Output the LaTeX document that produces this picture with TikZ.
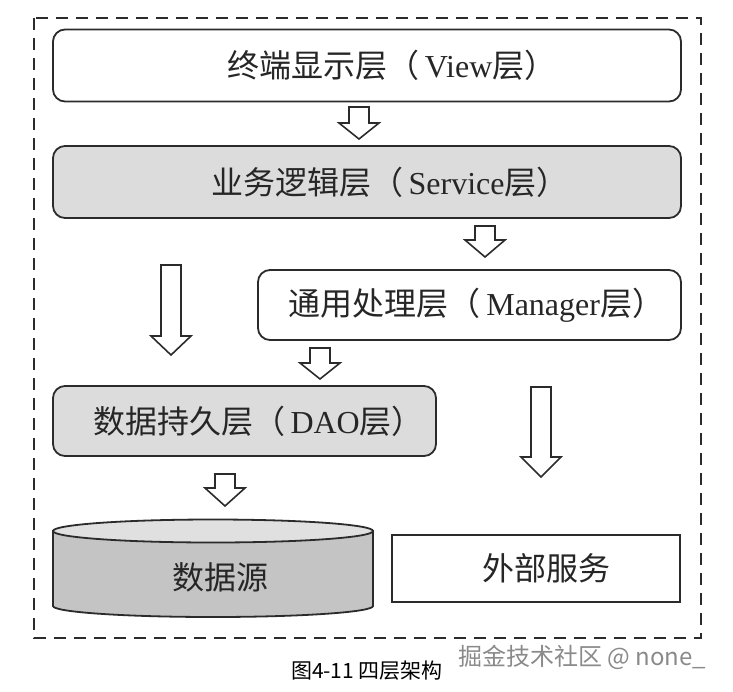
\documentclass[tikz,border=0pt]{standalone}
\usepackage{fontspec}
\setmainfont{Liberation Serif}
\newfontfamily\zhfont{Noto Sans CJK SC}
\usepackage{xcolor}
\usepackage{tikz}
\usetikzlibrary{calc}

\definecolor{inkgray}{HTML}{2B2B2B}
\definecolor{layergray}{HTML}{DCDCDC}
\definecolor{dbtop}{HTML}{E0E0E0}
\definecolor{dbbody}{HTML}{C4C4C4}
\definecolor{markgray}{HTML}{8A8A8A}

\newcommand{\zh}[1]{{\zhfont #1}}
% hollow block arrow pointing down: x, shaft top, head start, tip
\newcommand{\hollowarrow}[4]{%
  \draw[blockarrow] (#1-10,#2) -- (#1+10,#2) -- (#1+10,#3) -- (#1+20,#3) -- (#1,#4)
    -- (#1-20,#3) -- (#1-10,#3) -- cycle;}

\begin{document}
\begin{tikzpicture}[
    x=1pt, y=-1pt,
    font=\fontsize{32}{38}\selectfont,
    layer/.style={draw=inkgray, line width=1.8pt, rounded corners=12pt, text=black!85, inner sep=0pt},
    plainbox/.style={draw=inkgray, line width=1.8pt, text=black!85, inner sep=0pt},
    blockarrow/.style={draw=inkgray, fill=white, line width=1.6pt, line join=miter},
    frame/.style={draw=inkgray, line width=1.8pt, dash pattern=on 12pt off 8pt}
]
    \useasboundingbox (0,0) rectangle (733,691);

    % Outer dashed frame
    \draw[frame] (34,18) rectangle (701,638);

    % Layers, top to bottom
    \node[layer, fill=white, minimum width=628pt, minimum height=72pt] (view) at (367,65.5)
        {\hspace*{50pt}\zh{终端显示层（}\,View\zh{层）}};
    \node[layer, fill=layergray, minimum width=628pt, minimum height=72pt] (service) at (367,182)
        {\hspace*{46pt}\zh{业务逻辑层（}\,Service\zh{层）}};
    \node[layer, fill=white, minimum width=423pt, minimum height=70pt] (manager) at (469.5,305)
        {\hspace*{14pt}\zh{通用处理层（}\,Manager\zh{层）}};
    \node[layer, fill=layergray, minimum width=383pt, minimum height=70pt] (dao) at (244.5,421)
        {\hspace*{28pt}\zh{数据持久层（}\,DAO\zh{层）}};

    % Data source cylinder
    \draw[draw=inkgray, line width=1.8pt, fill=dbbody] (53,531) -- (53,606)
        arc[start angle=180, end angle=0, x radius=160, y radius=11] -- (373,531) -- cycle;
    \draw[draw=inkgray, line width=1.8pt, fill=dbtop] (213,531) ellipse[x radius=160, y radius=11.5];
    \node[text=black!85] (db) at (220,577) {\zh{数据源}};

    % External services
    \node[plainbox, fill=white, minimum width=288pt, minimum height=67pt] (ext) at (536,568.5)
        {\hspace*{20pt}\zh{外部服务}};

    % Hollow arrows between layers
    \hollowarrow{359}{107}{123}{139}
    \hollowarrow{485}{226}{240}{257}
    \hollowarrow{171}{265}{336}{355}
    \hollowarrow{320}{348}{363}{379}
    \hollowarrow{225}{474}{488}{506}
    \hollowarrow{541}{387}{457}{477}

    % Caption and watermark
    \node[font={\zhfont\fontsize{21}{25}\selectfont}] (caption) at (367,671) {图4-11 四层架构};
    \node[font={\zhfont\fontsize{24}{28}\selectfont}, text=markgray] (mark) at (582,657) {掘金技术社区 @ none\_};

\end{tikzpicture}
\end{document}
